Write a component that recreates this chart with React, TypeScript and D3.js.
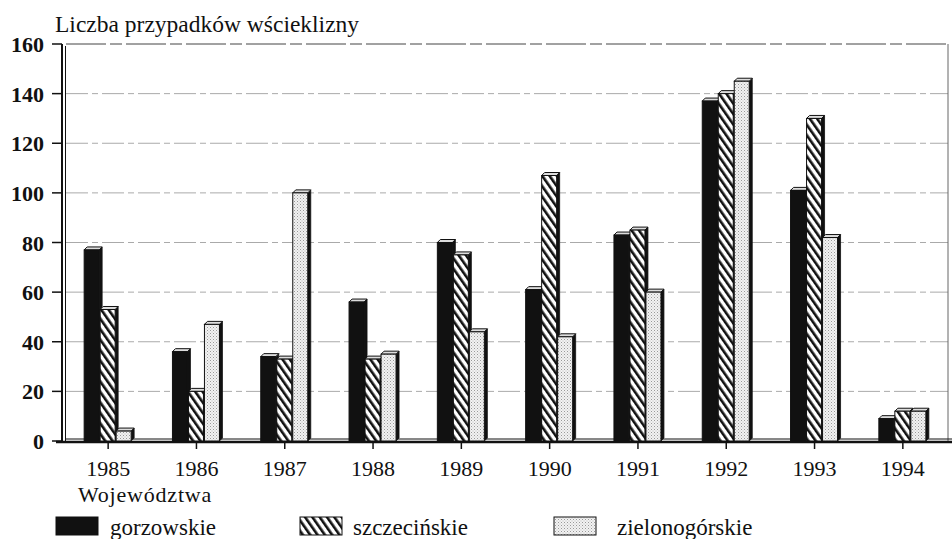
import React from 'react';
import * as d3 from 'd3';

const years = ['1985', '1986', '1987', '1988', '1989', '1990', '1991', '1992', '1993', '1994'];
const seriesNames = ['gorzowskie', 'szczecińskie', 'zielonogórskie'];
const gorzowskie = [77, 36, 34, 56, 80, 61, 83, 137, 101, 9];
const szczecinskie = [53, 20, 33, 33, 75, 107, 85, 140, 130, 12];
const zielonogorskie = [4, 47, 100, 35, 44, 42, 60, 145, 82, 12];
const yTicks = [0, 20, 40, 60, 80, 100, 120, 140, 160];

const W = 952;
const H = 539;
const font = 'Liberation Serif, DejaVu Serif, serif';

export default function App() {
  const x0 = d3.scaleBand<string>().domain(years).range([64, 947]);
  const groupW = 48;
  const x1 = d3.scaleBand<string>().domain(seriesNames).range([0, groupW]);
  const y = d3.scaleLinear().domain([0, 160]).range([441, 44]);

  const allValues = [gorzowskie, szczecinskie, zielonogorskie];
  const fills = ['#111', 'url(#stripes)', 'url(#dots)'];
  const dep = 3;

  const bars: JSX.Element[] = [];
  years.forEach((yr, i) => {
    seriesNames.forEach((s, j) => {
      const v = allValues[j][i];
      const bx = (x0(yr) as number) + (x0.bandwidth() - groupW) / 2 + (x1(s) as number);
      const bw = x1.bandwidth() - 1;
      const top = y(v);
      const bottom = y(0);
      bars.push(
        <g key={yr + s}>
          {/* side face */}
          <path
            d={`M${bx + bw},${top} L${bx + bw + dep},${top - dep} L${bx + bw + dep},${bottom - dep} L${bx + bw},${bottom} Z`}
            fill="#111"
            stroke="#111"
            strokeWidth={0.8}
          />
          {/* top face */}
          <path
            d={`M${bx},${top} L${bx + dep},${top - dep} L${bx + bw + dep},${top - dep} L${bx + bw},${top} Z`}
            fill="#ddd"
            stroke="#111"
            strokeWidth={1}
          />
          <rect x={bx} y={top} width={bw} height={bottom - top} fill={fills[j]} stroke="#111" strokeWidth={1} />
        </g>
      );
    });
  });

  const legendRectX = [56, 300, 554];
  const legendTextX = [110, 353, 617];

  return (
    <svg width={W} height={H} style={{ position: 'absolute', left: 0, top: 0, background: '#fff' }}>
      <defs>
        <pattern id="stripes" patternUnits="userSpaceOnUse" width={6} height={6} patternTransform="rotate(-35)">
          <rect width={6} height={6} fill="#fff" />
          <rect x={0} y={0} width={2.6} height={6} fill="#111" />
        </pattern>
        <pattern id="dots" patternUnits="userSpaceOnUse" width={3} height={3}>
          <rect width={3} height={3} fill="#f2f2f2" />
          <rect x={0} y={0} width={1} height={1} fill="#999" />
          <rect x={1.5} y={1.5} width={1} height={1} fill="#bbb" />
        </pattern>
      </defs>

      {/* gridlines */}
      {yTicks.filter(t => t > 0).map(t => (
        <line
          key={t}
          x1={66}
          x2={948}
          y1={y(t)}
          y2={y(t)}
          stroke={t === 160 ? '#444' : '#aaa'}
          strokeWidth={1}
          strokeDasharray={t === 160 ? '40 4 12 4' : '22 4 6 4'}
        />
      ))}
      {/* right border */}
      <line x1={948} x2={948} y1={44} y2={441} stroke="#666" strokeWidth={1} />

      {/* floor */}
      <line x1={56} x2={952} y1={y(0) + 1} y2={y(0) + 1} stroke="#111" strokeWidth={2.5} />
      <line x1={66} x2={952} y1={y(0) - 2} y2={y(0) - 2} stroke="#111" strokeWidth={1} />

      {bars}

      {/* left axis */}
      <line x1={62} x2={62} y1={44} y2={443} stroke="#111" strokeWidth={2} />
      <line x1={65.5} x2={65.5} y1={46} y2={441} stroke="#111" strokeWidth={1} />
      {yTicks.map(t => (
        <g key={t}>
          <line x1={52} x2={62} y1={y(t)} y2={y(t)} stroke="#111" strokeWidth={1.5} />
          <text x={44} y={y(t) + 8} textAnchor="end" fontFamily={font} fontWeight="bold" fontSize={22} fill="#111">
            {t}
          </text>
        </g>
      ))}

      {/* x ticks and labels */}
      {years.map(yr => {
        const cx = (x0(yr) as number) + x0.bandwidth() / 2;
        return (
          <g key={yr}>
            <line x1={cx} x2={cx} y1={y(0) + 2} y2={y(0) + 8} stroke="#111" strokeWidth={1.5} />
            <text x={cx} y={476} textAnchor="middle" fontFamily={font} fontSize={22} fill="#111">
              {yr}
            </text>
          </g>
        );
      })}

      <text x={55} y={32} fontFamily={font} fontSize={23.5} fill="#111">
        Liczba przypadków wścieklizny
      </text>
      <text x={78} y={502} fontFamily={font} fontSize={22} letterSpacing={0.8} fill="#111">
        Województwa
      </text>

      {/* legend */}
      {seriesNames.map((s, j) => (
        <g key={s}>
          <rect x={legendRectX[j]} y={517} width={42} height={18} fill={fills[j]} stroke="#111" strokeWidth={1} />
          <text x={legendTextX[j]} y={535} fontFamily={font} fontSize={23} fill="#111">
            {s}
          </text>
        </g>
      ))}
    </svg>
  );
}
